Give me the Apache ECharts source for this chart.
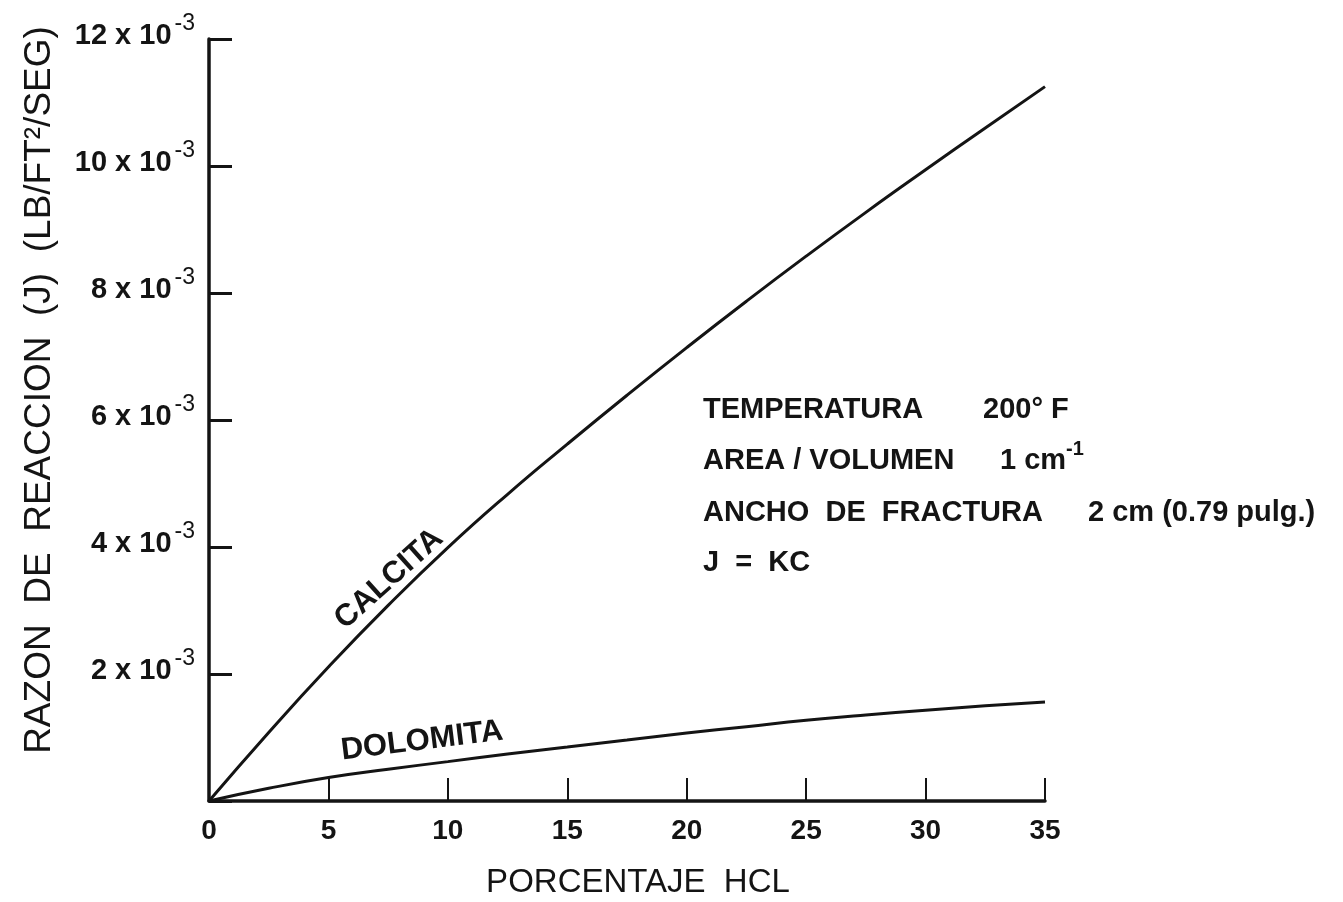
<!DOCTYPE html>
<html>
<head>
<meta charset="utf-8">
<script src="https://cdn.jsdelivr.net/npm/echarts@6/dist/echarts.min.js"></script>
<style>
html,body{margin:0;padding:0;background:#fff;}
#chart{width:1343px;height:902px;}
</style>
</head>
<body>
<div id="chart"></div>
<script>
// Percent HCl (x)
const hclPercent = [0, 2.5, 5, 7.5, 10, 12.5, 15, 17.5, 20, 22.5, 25, 27.5, 30, 32.5, 35];
// Reaction rate J, in units of 10^-3 lb/ft2/s
const calcita  = [0, 1.08, 2.11, 3.08, 3.99, 4.83, 5.62, 6.39, 7.14, 7.87, 8.58, 9.27, 9.94, 10.60, 11.25];
const dolomita = [0, 0.20, 0.37, 0.50, 0.62, 0.74, 0.85, 0.96, 1.07, 1.17, 1.27, 1.355, 1.43, 1.50, 1.56];
const yTickValues = [2, 4, 6, 8, 10, 12];
const yTitle = 'RAZON  DE  REACCION  (J)  (LB/FT²/SEG)';
const xTitle = 'PORCENTAJE  HCL';
const curveNames = ['CALCITA', 'DOLOMITA'];
const notes = [
  ['TEMPERATURA', '200° F'],
  ['AREA / VOLUMEN', '1 cm', '-1'],
  ['ANCHO  DE  FRACTURA', '2 cm (0.79 pulg.)'],
  ['J  =  KC']
];

const FONT = '"Liberation Sans", Roboto, sans-serif';
const INK = '#141414';
const NOTE_FONT = 'bold 29px ' + FONT;

const chart = echarts.init(document.getElementById('chart'), null, {renderer: 'canvas'});

function pairs(ys) { return hclPercent.map((x, i) => [x, ys[i]]); }

const option = {
  backgroundColor: '#fff',
  animation: false,
  grid: {left: 209, top: 39, right: 298, bottom: 101, containLabel: false},
  xAxis: {
    type: 'value', min: 0, max: 35, interval: 5,
    axisLine: {lineStyle: {color: INK, width: 3.5}},
    axisTick: {inside: true, length: 23, lineStyle: {color: INK, width: 2}},
    axisLabel: {margin: 16, fontSize: 28, fontWeight: 'bold', fontFamily: FONT, color: INK},
    splitLine: {show: false}
  },
  yAxis: {
    type: 'value', min: 0, max: 12, interval: 2,
    axisLine: {lineStyle: {color: INK, width: 3.5}},
    axisTick: {inside: true, length: 23, lineStyle: {color: INK, width: 3}},
    axisLabel: {
      margin: 14,
      formatter: v => (yTickValues.indexOf(v) >= 0 ? '{a|' + v + ' x 10}{b|-3}' : ''),
      rich: {
        a: {fontSize: 29, fontWeight: 'bold', fontFamily: FONT, color: INK, lineHeight: 53,
            verticalAlign: 'middle', padding: [0, 0, 7, 0]},
        b: {fontSize: 23, fontFamily: FONT, color: INK, lineHeight: 20, verticalAlign: 'top', padding: [0, 0, 0, 3]}
      }
    },
    splitLine: {show: false}
  },
  series: [
    {name: curveNames[0], type: 'line', data: pairs(calcita), smooth: 0.5, symbol: 'none',
     lineStyle: {color: INK, width: 3}},
    {name: curveNames[1], type: 'line', data: pairs(dolomita), smooth: 0.5, symbol: 'none',
     lineStyle: {color: INK, width: 3}}
  ],
  graphic: [
    {type: 'text', x: 40, y: 390, rotation: Math.PI / 2,
     style: {text: yTitle, font: '37px ' + FONT, fill: INK, textAlign: 'center', textVerticalAlign: 'middle'}},
    {type: 'text', x: 638, y: 883,
     style: {text: xTitle, font: '33px ' + FONT, fill: INK, textAlign: 'center', textVerticalAlign: 'middle'}},
    {type: 'text', x: 389, y: 579, rotation: 42 * Math.PI / 180,
     style: {text: curveNames[0], font: 'bold 31px ' + FONT, fill: INK, textAlign: 'center', textVerticalAlign: 'middle'}},
    {type: 'text', x: 422, y: 741, rotation: 7 * Math.PI / 180,
     style: {text: curveNames[1], font: 'bold 31px ' + FONT, fill: INK, textAlign: 'center', textVerticalAlign: 'middle'}},
    {type: 'text', x: 703, y: 410, style: {text: notes[0][0], font: NOTE_FONT, fill: INK, textVerticalAlign: 'middle'}},
    {type: 'text', x: 983, y: 410, style: {text: notes[0][1], font: NOTE_FONT, fill: INK, textVerticalAlign: 'middle'}},
    {type: 'text', x: 703, y: 461, style: {text: notes[1][0], font: NOTE_FONT, fill: INK, textVerticalAlign: 'middle'}},
    {type: 'text', x: 1000, y: 461, style: {
      text: '{a|' + notes[1][1] + '}{b|' + notes[1][2] + '}',
      textVerticalAlign: 'middle',
      rich: {
        a: {font: NOTE_FONT, fill: INK, lineHeight: 44, verticalAlign: 'middle'},
        b: {font: 'bold 20px ' + FONT, fill: INK, lineHeight: 18, verticalAlign: 'top'}
      }}},
    {type: 'text', x: 703, y: 513, style: {text: notes[2][0], font: NOTE_FONT, fill: INK, textVerticalAlign: 'middle'}},
    {type: 'text', x: 1088, y: 513, style: {text: notes[2][1], font: NOTE_FONT, fill: INK, textVerticalAlign: 'middle'}},
    {type: 'text', x: 703, y: 563, style: {text: notes[3][0], font: NOTE_FONT, fill: INK, textVerticalAlign: 'middle'}}
  ]
};
chart.setOption(option);
</script>
</body>
</html>
